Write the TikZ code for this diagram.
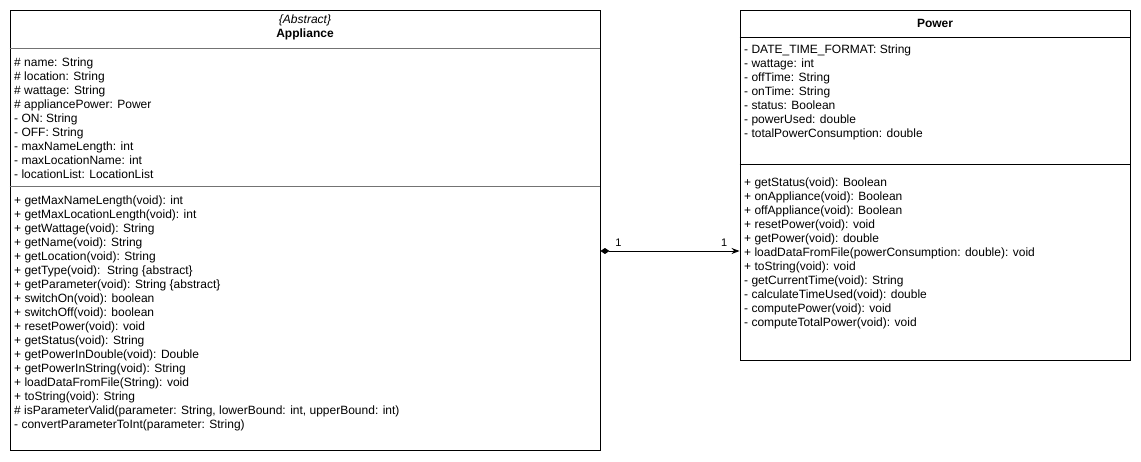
\documentclass[tikz,border=0pt]{standalone}
\usepackage{fontspec}
\setmainfont{Liberation Sans}
\usetikzlibrary{positioning,arrows.meta}

\begin{document}
\begin{tikzpicture}[x=1pt, y=-1pt,
    classbox/.style={draw=black, line width=0.9pt, fill=white, inner sep=0pt},
    title/.style={inner sep=0pt, align=center, font=\fontsize{12}{14}\selectfont},
    members/.style={anchor=north west, inner sep=0pt, align=left, font=\fontsize{12}{14}\selectfont},
    sep/.style={draw=black!55, line width=0.9pt},
    darksep/.style={draw=black, line width=0.9pt},
    mult/.style={inner sep=0pt, font=\fontsize{11}{12}\selectfont},
    assoc/.style={draw=black, line width=0.9pt, {Diamond[length=9pt,width=6pt]}-{Stealth[length=8pt,width=6pt]}}
]
\useasboundingbox (0,0) rectangle (1141,461);

% Appliance class
\node[classbox, minimum width=590pt, minimum height=440pt] (appl) at (305,230) {};
\node[title] (appl title) at (305,27) {\textit{\{Abstract\}}\\\textbf{Appliance}};
\draw[sep] (appl.west |- 0,48) -- (appl.east |- 0,48);
\draw[sep] (appl.west |- 0,186) -- (appl.east |- 0,186);
\node[members] (appl attrs) at (14,58) {\# name: String\\
\# location: String\\
\# wattage: String\\
\# appliancePower: Power\\
- ON: String\\
- OFF: String\\
- maxNameLength: int\\
- maxLocationName: int\\
- locationList: LocationList};
\node[members] (appl ops) at (14,196) {+ getMaxNameLength(void): int\\
+ getMaxLocationLength(void): int\\
+ getWattage(void): String\\
+ getName(void): String\\
+ getLocation(void): String\\
+ getType(void):\ \ String \{abstract\}\\
+ getParameter(void): String \{abstract\}\\
+ switchOn(void): boolean\\
+ switchOff(void): boolean\\
+ resetPower(void): void\\
+ getStatus(void): String\\
+ getPowerInDouble(void): Double\\
+ getPowerInString(void): String\\
+ loadDataFromFile(String): void\\
+ toString(void): String\\
\# isParameterValid(parameter: String, lowerBound: int, upperBound: int)\\
- convertParameterToInt(parameter: String)};

% Power class
\node[classbox, minimum width=390pt, minimum height=350pt] (power) at (935,185) {};
\node[title] (power title) at (935,23) {\textbf{Power}};
\draw[darksep] (power.west |- 0,37) -- (power.east |- 0,37);
\draw[darksep] (power.west |- 0,164) -- (power.east |- 0,164);
\node[members] (power attrs) at (744,45) {- DATE\_TIME\_FORMAT: String\\
- wattage: int\\
- offTime: String\\
- onTime: String\\
- status: Boolean\\
- powerUsed: double\\
- totalPowerConsumption: double};
\node[members] (power ops) at (744,178) {+ getStatus(void): Boolean\\
+ onAppliance(void): Boolean\\
+ offAppliance(void): Boolean\\
+ resetPower(void): void\\
+ getPower(void): double\\
+ loadDataFromFile(powerConsumption: double): void\\
+ toString(void): void\\
- getCurrentTime(void): String\\
- calculateTimeUsed(void): double\\
- computePower(void): void\\
- computeTotalPower(void): void};

% composition
\draw[assoc] (appl.east |- 0,251) -- node[mult, pos=0.13, above=4pt] {1}
    node[mult, pos=0.89, above=4pt] {1} (power.west |- 0,251);
\end{tikzpicture}
\end{document}
